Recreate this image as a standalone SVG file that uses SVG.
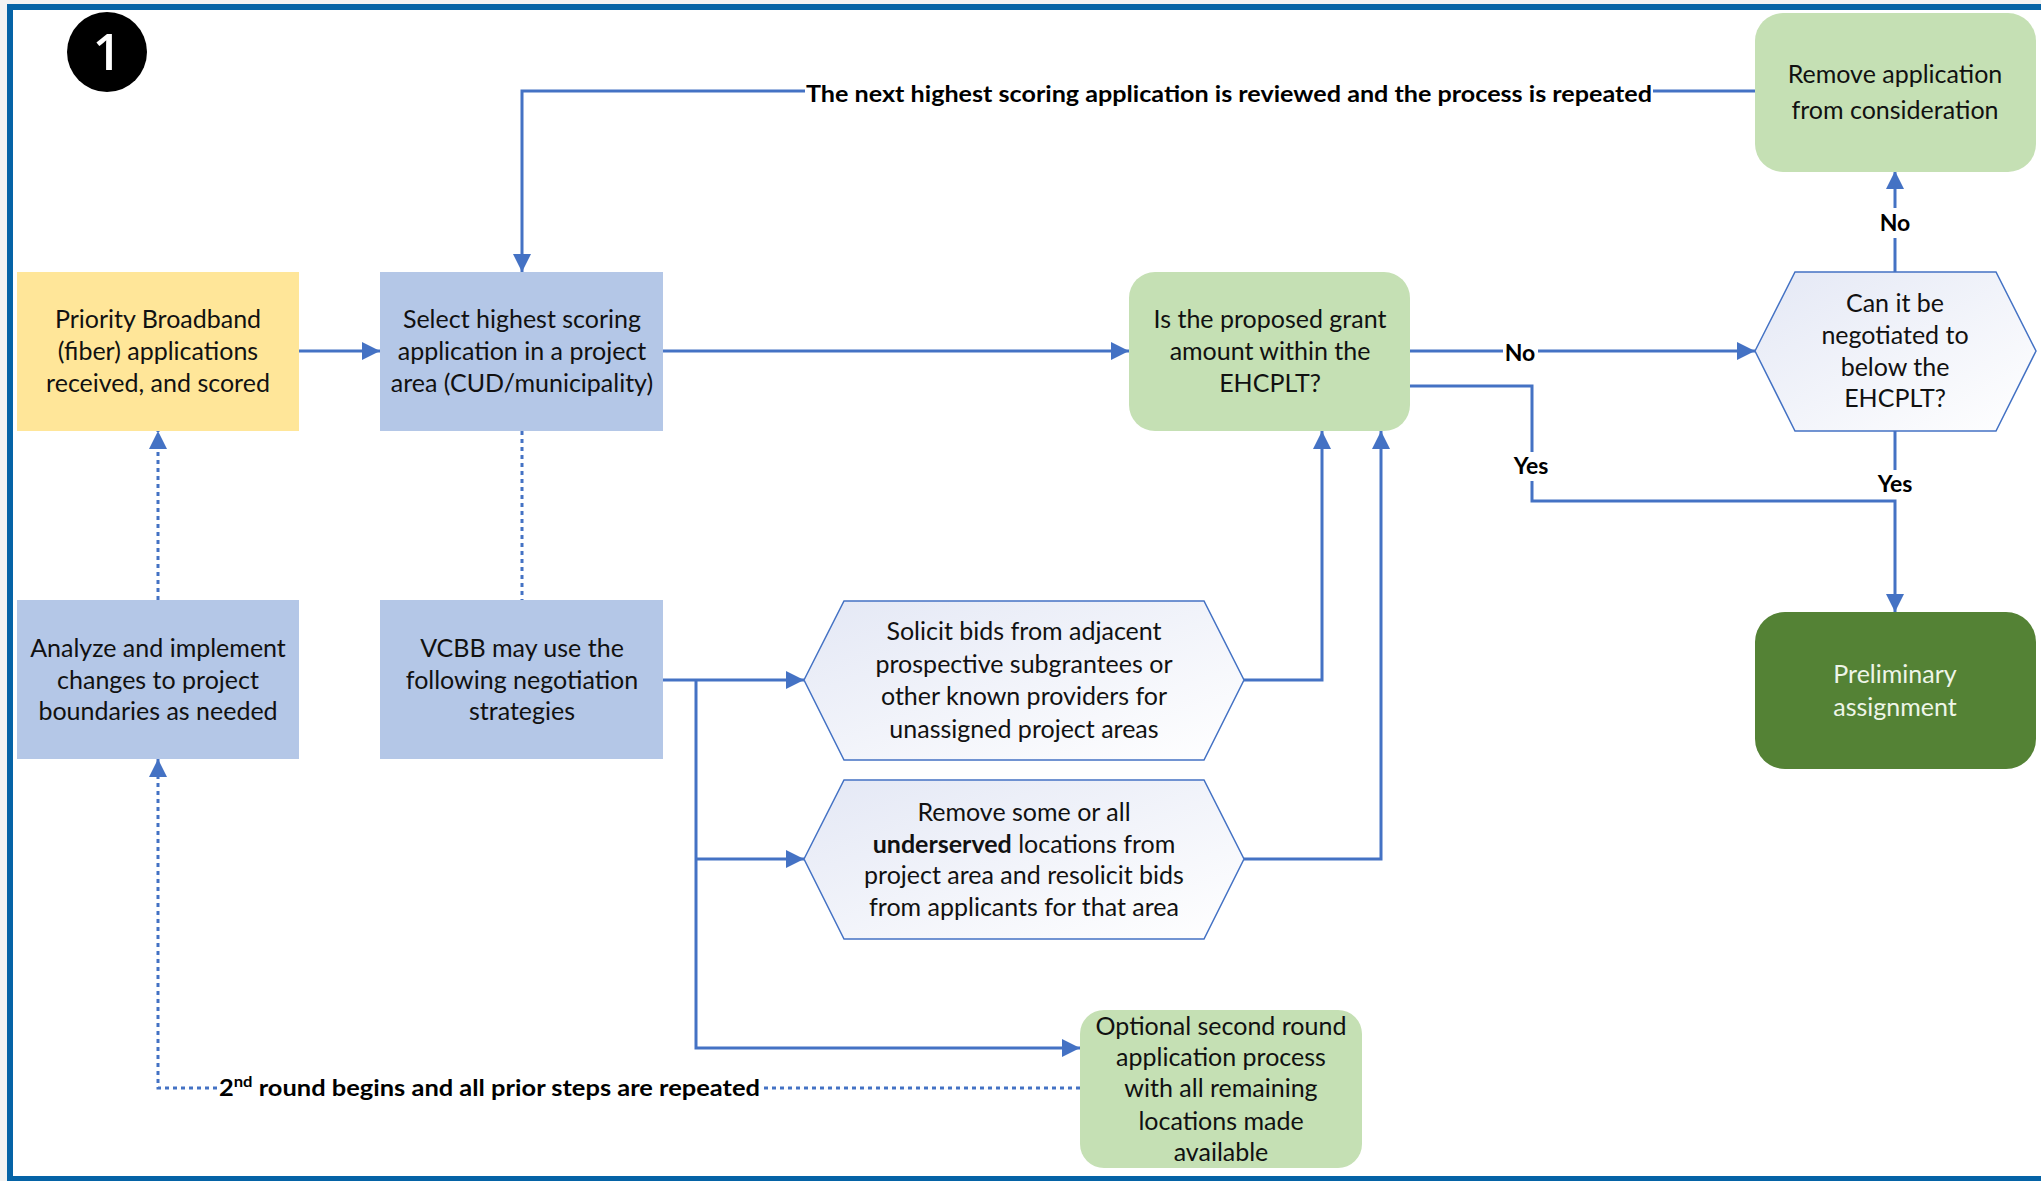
<svg xmlns="http://www.w3.org/2000/svg" width="2041" height="1181" viewBox="0 0 2041 1181">
<defs>
<style>
.t{font-family:Lato,"Liberation Sans",sans-serif;font-size:25px;fill:#111;text-anchor:middle}
.b{font-family:Lato,"Liberation Sans",sans-serif;font-size:23px;font-weight:700;fill:#000}
.ln{fill:none;stroke:#4472C4;stroke-width:3}
.dt{fill:none;stroke:#4472C4;stroke-width:3;stroke-dasharray:4 4}
.yel{fill:#FFE699}
.blu{fill:#B4C7E7}
.lg{fill:#C5E0B4}
.dg{fill:#548235}
.hex{fill:url(#hg);stroke:#4472C4;stroke-width:1.5}
</style>
<linearGradient id="hg" x1="0" y1="0" x2="1" y2="1">
<stop offset="0" stop-color="#E4E8F5"/>
<stop offset="1" stop-color="#FFFFFF"/>
</linearGradient>
<marker id="ah" viewBox="0 0 10 10" refX="10" refY="5" markerWidth="6" markerHeight="6" orient="auto" markerUnits="strokeWidth">
<path d="M0,0 L10,5 L0,10 z" fill="#4472C4"/>
</marker>
</defs>
<rect x="0" y="0" width="2041" height="1181" fill="#F2F2F2"/>
<rect x="10" y="7" width="2045" height="1172" fill="#FFFFFF" stroke="#0563A6" stroke-width="6"/>

<g id="badge">
<circle cx="107" cy="52" r="40" fill="#000"/>
<text x="107" y="70" style="font-family:'Open Sans','Liberation Sans',sans-serif;font-size:50px;font-weight:600;fill:#fff;text-anchor:middle">1</text>
</g>

<g id="connectors">
<line class="ln" x1="299" y1="351" x2="380" y2="351" marker-end="url(#ah)"/>
<line class="ln" x1="663" y1="351" x2="1129" y2="351" marker-end="url(#ah)"/>
<polyline class="ln" points="1410,351 1503,351"/>
<polyline class="ln" points="1538,351 1755,351" marker-end="url(#ah)"/>
<polyline class="ln" points="1410,386 1532,386 1532,452"/>
<polyline class="ln" points="1532,481 1532,501 1895,501 1895,612" marker-end="url(#ah)"/>
<polyline class="ln" points="1895,431 1895,470"/>
<polyline class="ln" points="1895,272 1895,238"/>
<polyline class="ln" points="1895,208 1895,171" marker-end="url(#ah)"/>
<polyline class="ln" points="1755,91 1653,91"/>
<polyline class="ln" points="805,91 522,91 522,272" marker-end="url(#ah)"/>
<line class="dt" x1="522" y1="431" x2="522" y2="600"/>
<line class="dt" x1="158" y1="600" x2="158" y2="431" marker-end="url(#ah)"/>
<polyline class="dt" points="1080,1088 762,1088"/>
<polyline class="dt" points="217,1088 158,1088 158,759" marker-end="url(#ah)"/>
<line class="ln" x1="663" y1="680" x2="804" y2="680" marker-end="url(#ah)"/>
<polyline class="ln" points="696,680 696,1048 1080,1048" marker-end="url(#ah)"/>
<line class="ln" x1="696" y1="859" x2="804" y2="859" marker-end="url(#ah)"/>
<polyline class="ln" points="1244,680 1322,680 1322,431" marker-end="url(#ah)"/>
<polyline class="ln" points="1244,859 1381,859 1381,431" marker-end="url(#ah)"/>
<text class="b" x="1520" y="361" text-anchor="middle">No</text>
<text class="b" x="1531" y="474" text-anchor="middle">Yes</text>
<text class="b" x="1895" y="231" text-anchor="middle">No</text>
<text class="b" x="1895" y="492" text-anchor="middle">Yes</text>
<text class="b" x="1229" y="102" text-anchor="middle" textLength="846" lengthAdjust="spacingAndGlyphs">The next highest scoring application is reviewed and the process is repeated</text>
<text class="b" x="219" y="1096" textLength="541" lengthAdjust="spacingAndGlyphs">2<tspan font-size="15" dy="-9">nd</tspan><tspan dy="9"> round begins and all prior steps are repeated</tspan></text>
</g>

<g id="priority">
<rect class="yel" x="17" y="272" width="282" height="159"/>
<text class="t" x="158" y="328">Priority Broadband</text>
<text class="t" x="158" y="360">(fiber) applications</text>
<text class="t" x="158" y="392">received, and scored</text>
</g>

<g id="select">
<rect class="blu" x="380" y="272" width="283" height="159"/>
<text class="t" x="522" y="328">Select highest scoring</text>
<text class="t" x="522" y="360">application in a project</text>
<text class="t" x="522" y="392">area (CUD/municipality)</text>
</g>

<g id="is-proposed">
<rect class="lg" x="1129" y="272" width="281" height="159" rx="26"/>
<text class="t" x="1270" y="328">Is the proposed grant</text>
<text class="t" x="1270" y="360">amount within the</text>
<text class="t" x="1270" y="392">EHCPLT?</text>
</g>

<g id="remove-application">
<rect class="lg" x="1755" y="13" width="281" height="159" rx="28"/>
<text class="t" x="1895" y="83">Remove application</text>
<text class="t" x="1895" y="119">from consideration</text>
</g>

<g id="can-negotiate">
<polygon class="hex" points="1755,351 1795,272 1996,272 2036,351 1996,431 1795,431"/>
<text class="t" x="1895" y="312">Can it be</text>
<text class="t" x="1895" y="344">negotiated to</text>
<text class="t" x="1895" y="376">below the</text>
<text class="t" x="1895" y="407">EHCPLT?</text>
</g>

<g id="preliminary">
<rect class="dg" x="1755" y="612" width="281" height="157" rx="30"/>
<text class="t" x="1895" y="683" style="fill:#EEF5E8">Preliminary</text>
<text class="t" x="1895" y="716" style="fill:#EEF5E8">assignment</text>
</g>

<g id="analyze">
<rect class="blu" x="17" y="600" width="282" height="159"/>
<text class="t" x="158" y="657">Analyze and implement</text>
<text class="t" x="158" y="689">changes to project</text>
<text class="t" x="158" y="720">boundaries as needed</text>
</g>

<g id="vcbb">
<rect class="blu" x="380" y="600" width="283" height="159"/>
<text class="t" x="522" y="657">VCBB may use the</text>
<text class="t" x="522" y="689">following negotiation</text>
<text class="t" x="522" y="720">strategies</text>
</g>

<g id="solicit">
<polygon class="hex" points="804,680 844,601 1204,601 1244,680 1204,760 844,760"/>
<text class="t" x="1024" y="640">Solicit bids from adjacent</text>
<text class="t" x="1024" y="673">prospective subgrantees or</text>
<text class="t" x="1024" y="705">other known providers for</text>
<text class="t" x="1024" y="738">unassigned project areas</text>
</g>

<g id="remove-some">
<polygon class="hex" points="804,859 844,780 1204,780 1244,859 1204,939 844,939"/>
<text class="t" x="1024" y="821">Remove some or all</text>
<text class="t" x="1024" y="853"><tspan font-weight="700">underserved</tspan> locations from</text>
<text class="t" x="1024" y="884">project area and resolicit bids</text>
<text class="t" x="1024" y="916">from applicants for that area</text>
</g>

<g id="optional">
<rect class="lg" x="1080" y="1010" width="282" height="158" rx="24"/>
<text class="t" x="1221" y="1035">Optional second round</text>
<text class="t" x="1221" y="1066">application process</text>
<text class="t" x="1221" y="1097">with all remaining</text>
<text class="t" x="1221" y="1130">locations made</text>
<text class="t" x="1221" y="1161">available</text>
</g>
</svg>
